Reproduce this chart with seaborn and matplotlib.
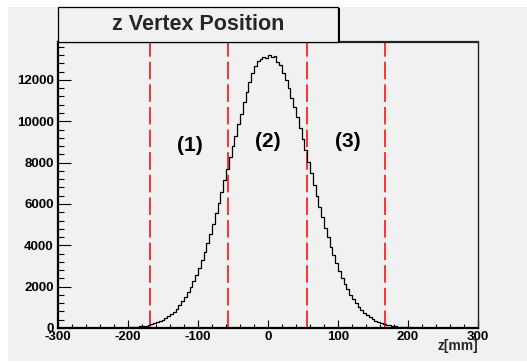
import numpy as np
import pandas as pd
import matplotlib
matplotlib.use("Agg")
import matplotlib.pyplot as plt
from matplotlib.patches import Rectangle
from matplotlib.ticker import MultipleLocator
import seaborn as sns

# ---- data ----
counts_left = [8, 10, 14, 18, 23, 30, 38, 48, 60, 76, 95, 118, 146, 180, 220,
               268, 326, 393, 473, 565, 672, 796, 938, 1099, 1282, 1488, 1718,
               1975, 2258, 2570, 2910, 3280, 3680, 4100, 4560, 5030, 5550, 6050,
               6600, 7150, 7700, 8250, 8800, 9300, 9850, 10350, 10950, 11400,
               11900, 12350, 12650, 12900, 13000, 13100, 13050]
counts_right = [13200, 13120, 13180, 12850, 12700, 12350, 12000, 11600, 11150,
                10700, 10200, 9680, 9150, 8600, 8050, 7480, 6930, 6400, 5870,
                5350, 4860, 4390, 3940, 3520, 3130, 2770, 2440, 2140, 1870, 1620,
                1400, 1200, 1030, 875, 740, 625, 522, 436, 362, 299, 245, 200,
                163, 131, 106, 85, 68, 54, 43, 34, 26, 20, 16, 12, 9]
counts = counts_left + counts_right
bin_low, bin_high, bin_width = -220, 220, 4
cut_positions = [-169, -57, 55, 167]
region_labels = ["(1)", "(2)", "(3)"]
region_x = [-111, 0, 114]
region_y = [8850, 9000, 9000]
title = "z Vertex Position"
xlabel = "z[mm]"

edges = np.arange(bin_low, bin_high + bin_width, bin_width)
centers = edges[:-1] + bin_width / 2
df = pd.DataFrame({"z": centers, "n": counts})

sns.set_style("ticks")
plt.rcParams['font.family'] = ['Liberation Sans', 'DejaVu Sans']
plt.rcParams['font.weight'] = 'bold'
plt.rcParams['axes.unicode_minus'] = False

W, H = 527, 363
fig = plt.figure(figsize=(W / 100, H / 100), dpi=100)
fig.patch.set_facecolor('white')
bg = '#f1f1f1'
fig.patches.append(Rectangle((8 / W, 2 / H), 1 - 8 / W, 1 - 9 / H,
                             transform=fig.transFigure, facecolor=bg,
                             edgecolor='none', zorder=-10))

ax = fig.add_axes([58 / W, 1 - 328 / H, 420 / W, 286 / H])
ax.set_facecolor(bg)

sns.histplot(data=df, x="z", weights="n", binwidth=bin_width,
             binrange=(bin_low, bin_high), element="step",
             fill=False, color='black', linewidth=0.9, ax=ax)

for xc in cut_positions:
    ax.axvline(xc, color='#ff0000', linewidth=1.1, dashes=(11.5, 3.3), zorder=1)

for t, xx, yy in zip(region_labels, region_x, region_y):
    ax.text(xx, yy, t, ha='center', va='center', fontsize=15,
            fontweight='bold', color='black')

ax.set_xlim(-300, 300)
ax.set_ylim(0, 13835)
ax.set_xlabel("")
ax.set_ylabel("")
ax.xaxis.set_major_locator(MultipleLocator(100))
ax.xaxis.set_minor_locator(MultipleLocator(20))
ax.yaxis.set_major_locator(MultipleLocator(2000))
ax.yaxis.set_minor_locator(MultipleLocator(400))
ax.tick_params(axis='both', which='both', direction='in', colors='black',
               labelsize=9.5, width=0.8)
ax.tick_params(axis='x', which='major', length=6, pad=2.5)
ax.tick_params(axis='x', which='minor', length=3)
ax.tick_params(axis='y', which='major', length=9.5, pad=3)
ax.tick_params(axis='y', which='minor', length=4.5)
for lab in ax.get_xticklabels() + ax.get_yticklabels():
    lab.set_fontweight('bold')

for side in ['left', 'bottom']:
    ax.spines[side].set_linewidth(1.6)
    ax.spines[side].set_color('black')
for side in ['top', 'right']:
    ax.spines[side].set_visible(True)
    ax.spines[side].set_linewidth(1.0)
    ax.spines[side].set_color('#222222')
ax.spines['top'].set_linewidth(1.6)

fig.text(478 / W, 1 - 346 / H, xlabel, ha='right', va='center', fontsize=10,
         fontweight='bold')

# title box with shadow
bx0, by0, bx1, by1 = 58, 7, 338, 42
fig.patches.append(Rectangle(((bx0 + 2) / W, 1 - (by1 + 1) / H),
                             (bx1 - bx0) / W, (by1 - by0) / H,
                             transform=fig.transFigure, facecolor='black',
                             edgecolor='none', zorder=5))
fig.patches.append(Rectangle((bx0 / W, 1 - by1 / H),
                             (bx1 - bx0) / W, (by1 - by0) / H,
                             transform=fig.transFigure, facecolor=bg,
                             edgecolor='black', linewidth=0.9, zorder=6))
fig.text((bx0 + bx1) / 2 / W, 1 - 24.5 / H, title, ha='center', va='center',
         fontsize=15.5, fontweight='bold', zorder=7)

fig.savefig("out.png", dpi=100, facecolor=fig.get_facecolor())
